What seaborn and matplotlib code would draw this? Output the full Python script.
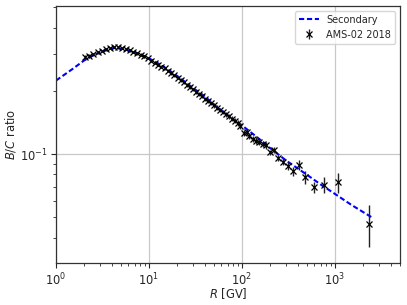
import numpy as np
import pandas as pd
import matplotlib
matplotlib.use("Agg")
import matplotlib.pyplot as plt
from matplotlib.ticker import NullFormatter
import seaborn as sns

# AMS-02 B/C ratio
ams_r = [2.03, 2.27, 2.53, 2.82, 3.13, 3.46, 3.83, 4.22, 4.65, 5.12,
         5.63, 6.18, 6.77, 7.42, 8.11, 8.86, 9.67, 10.5, 11.5, 12.5,
         13.5, 14.7, 15.9, 17.3, 18.7, 20.3, 21.9, 23.7, 25.7, 27.7,
         29.9, 32.3, 34.8, 37.5, 40.4, 43.5, 46.8, 50.3, 54.1, 58.2,
         62.5, 67.2, 72.3, 77.6, 83.4, 89.7, 96.4, 104, 112, 120,
         130, 141, 153, 167, 183, 201, 222, 245, 274, 310,
         354, 409, 481, 589, 761, 1070, 2300]
ams_bc = [0.289, 0.293, 0.299, 0.305, 0.310, 0.315, 0.320, 0.324, 0.323, 0.319,
          0.316, 0.312, 0.307, 0.302, 0.297, 0.292, 0.287, 0.279, 0.273, 0.267,
          0.261, 0.256, 0.250, 0.243, 0.237, 0.231, 0.2255, 0.2196, 0.2137, 0.2084,
          0.2032, 0.198, 0.1931, 0.1883, 0.1836, 0.1791, 0.1748, 0.1706, 0.1665, 0.1625,
          0.1587, 0.1549, 0.1511, 0.1476, 0.1441, 0.1406, 0.136, 0.126, 0.127, 0.122,
          0.118, 0.116, 0.1145, 0.112, 0.110, 0.102, 0.105, 0.096, 0.092, 0.0875,
          0.0826, 0.0888, 0.0775, 0.0695, 0.0716, 0.0734, 0.0465]
ams_err = [0.008, 0.006, 0.005, 0.005, 0.004, 0.004, 0.004, 0.004, 0.004, 0.004,
           0.004, 0.004, 0.004, 0.004, 0.004, 0.004, 0.004, 0.004, 0.004, 0.004,
           0.004, 0.004, 0.004, 0.004, 0.004, 0.004, 0.004, 0.004, 0.004, 0.004,
           0.004, 0.004, 0.004, 0.004, 0.004, 0.004, 0.004, 0.004, 0.004, 0.004,
           0.004, 0.004, 0.004, 0.004, 0.004, 0.004, 0.004, 0.004, 0.004, 0.004,
           0.004, 0.004, 0.004, 0.004, 0.004, 0.003, 0.0033, 0.0034, 0.0035, 0.0038,
           0.0040, 0.0045, 0.0054, 0.0044, 0.0061, 0.0082, 0.0104]

# secondary model curve
sec_r = [1, 1.5, 2, 2.5, 3, 3.5, 4.15, 5, 6, 7, 8, 10, 13, 16, 20, 25, 30, 40,
         50, 70, 100, 150, 200, 300, 500, 700, 1000, 1500, 2000, 2540]
sec_bc = [0.224, 0.254, 0.279, 0.295, 0.306, 0.314, 0.320, 0.318, 0.312, 0.305,
          0.298, 0.286, 0.268, 0.253, 0.236, 0.219, 0.206, 0.188, 0.172, 0.153,
          0.137, 0.119, 0.107, 0.093, 0.0797, 0.0717, 0.0646, 0.0573, 0.0530, 0.0497]

sns.set_style("ticks")
plt.rcParams['font.family'] = ['DejaVu Sans']

fig = plt.figure(figsize=(4.07, 3.05), dpi=100)
ax = fig.add_axes([0.1376, 0.138, 0.845, 0.842])
ax.set_xscale('log')
ax.set_yscale('log')

sec = pd.DataFrame({'R': sec_r, 'BC': sec_bc})
sns.lineplot(data=sec, x='R', y='BC', ax=ax, color='blue', lw=1.5,
             linestyle='--', label='Secondary', sort=False)
ax.lines[0].set_dashes((2.5, 1.3))

ax.errorbar(ams_r, ams_bc, yerr=ams_err, fmt='x', color='k', ms=3.8,
            mew=0.9, elinewidth=1.0, ecolor='#222222', label='AMS-02 2018')

ax.set_xlim(1, 5000)
ax.set_ylim(0.0303, 0.507)
ax.yaxis.set_minor_formatter(NullFormatter())
ax.grid(True, which='major', color='#c8c8c8', lw=0.9)
ax.set_axisbelow(True)
for s in ax.spines.values():
    s.set_color('#333333')
    s.set_linewidth(0.9)
ax.tick_params(labelsize=8.3, pad=2.5)
ax.set_xlabel('$R$ [GV]', fontsize=8.3, labelpad=-1)
ax.set_ylabel('$B/C$ ratio', fontsize=8.3, labelpad=1)
ax.legend(loc='upper right', fontsize=7, frameon=True)

fig.savefig('out.png', dpi=100)
